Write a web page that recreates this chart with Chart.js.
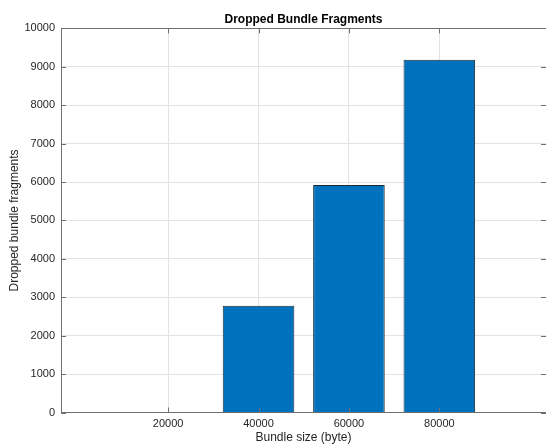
<!DOCTYPE html>
<html>
<head>
<meta charset="utf-8">
<script src="https://cdn.jsdelivr.net/npm/chart.js@4/dist/chart.umd.min.js"></script>
<style>
  html, body { margin: 0; padding: 0; background: #fff; }
  canvas { display: block; }
</style>
</head>
<body>
<canvas id="chartBundle" width="546" height="445"></canvas>
<script>
// valores
const bundleSizes = [20000, 40000, 60000, 80000];
const droppedFragments = [0, 2780, 5925, 9182];
const yTicks = [0, 1000, 2000, 3000, 4000, 5000, 6000, 7000, 8000, 9000, 10000];

const axisColor = "#6f6f6f";
const textColor = "#262626";

Chart.defaults.font.family = "'Liberation Sans', Arial, Helvetica, sans-serif";
Chart.defaults.color = textColor;

// ticks para dentro + linha de cima (estilo matlab)
const boxTicks = {
  id: "boxTicks",
  afterDraw(chart) {
    const { ctx, chartArea: a, scales } = chart;
    const len = 5;
    ctx.save();
    ctx.strokeStyle = axisColor;
    ctx.lineWidth = 1;
    ctx.beginPath();
    ctx.moveTo(a.left, Math.round(a.top) + 0.5);
    ctx.lineTo(a.right, Math.round(a.top) + 0.5);
    scales.x.ticks.forEach(t => {
      const px = Math.round(scales.x.getPixelForValue(t.value)) + 0.5;
      ctx.moveTo(px, a.bottom);
      ctx.lineTo(px, a.bottom - len);
      ctx.moveTo(px, a.top);
      ctx.lineTo(px, a.top + len);
    });
    scales.y.ticks.forEach(t => {
      const py = Math.round(scales.y.getPixelForValue(t.value)) + 0.5;
      ctx.moveTo(a.left, py);
      ctx.lineTo(a.left + len, py);
      ctx.moveTo(a.right, py);
      ctx.lineTo(a.right - len, py);
    });
    ctx.stroke();
    ctx.restore();
  }
};

new Chart(document.getElementById("chartBundle"), {
  type: "bar",
  data: {
    datasets: [{
      label: "Dropped bundle fragments",
      data: bundleSizes.map((x, i) => ({ x: x, y: droppedFragments[i] })),
      backgroundColor: "#0072BD",
      borderColor: "#1f2a33",
      borderWidth: 1,
      categoryPercentage: 0.8,
      barPercentage: 0.99
    }]
  },
  options: {
    responsive: false,
    animation: false,
    layout: { padding: 0 },
    plugins: {
      legend: { display: false },
      tooltip: { enabled: false },
      title: {
        display: true,
        text: "Dropped Bundle Fragments",
        fullSize: false,
        color: "#000",
        font: { size: 12, weight: "bold" },
        padding: { top: 12, bottom: 2 }
      }
    },
    scales: {
      x: {
        type: "linear",
        offset: false,
        min: -3700,
        max: 103600,
        afterBuildTicks: s => { s.ticks = bundleSizes.map(v => ({ value: v })); },
        afterFit: s => { s.height = 32.5; },
        grid: { color: "#e3e3e3", drawTicks: false, offset: false },
        border: { color: axisColor },
        ticks: { font: { size: 11 }, color: textColor, padding: 5, maxRotation: 0, callback: v => String(v) },
        title: {
          display: true,
          text: "Bundle size (byte)",
          font: { size: 12 },
          color: textColor,
          padding: { top: 0, bottom: 0 }
        }
      },
      y: {
        min: 0,
        max: 10000,
        afterBuildTicks: s => { s.ticks = yTicks.map(v => ({ value: v })); },
        afterFit: s => { s.width = 61; },
        grid: { color: "#e3e3e3", drawTicks: false },
        border: { color: axisColor },
        ticks: { font: { size: 11 }, color: textColor, padding: 6, callback: v => String(v) },
        title: {
          display: true,
          text: "Dropped bundle fragments",
          font: { size: 12 },
          color: textColor,
          padding: { top: 7, bottom: 0 }
        }
      }
    }
  },
  plugins: [boxTicks]
});
</script>
</body>
</html>
